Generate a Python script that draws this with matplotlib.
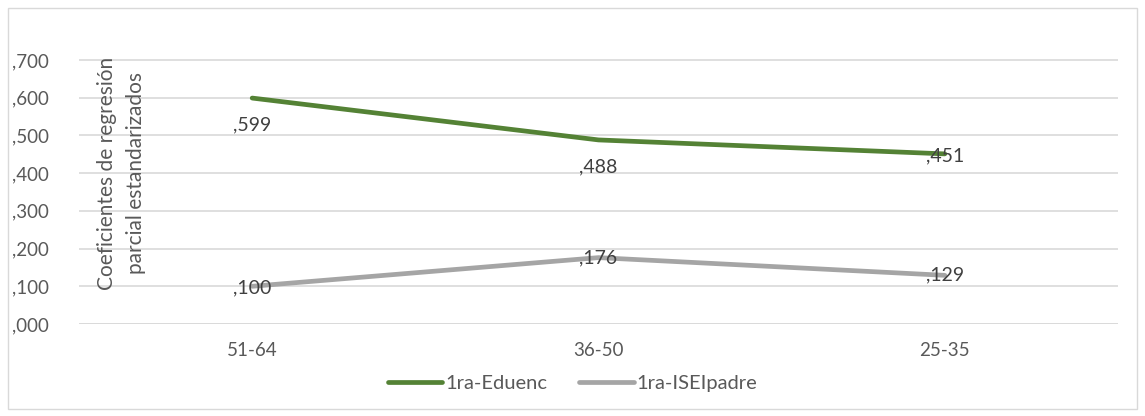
import matplotlib
matplotlib.use('Agg')
import matplotlib.pyplot as plt
from matplotlib.patches import Rectangle

# data
categorias = ['51-64', '36-50', '25-35']
eduenc = [0.599, 0.488, 0.451]
iseipadre = [0.100, 0.176, 0.129]
etiq_eduenc = [',599', ',488', ',451']
etiq_isei = [',100', ',176', ',129']
yticks = [0.0, 0.1, 0.2, 0.3, 0.4, 0.5, 0.6, 0.7]
ytick_labels = [',000', ',100', ',200', ',300', ',400', ',500', ',600', ',700']

plt.rcParams['font.family'] = ['Lato', 'DejaVu Sans']
txt = '#595959'
verde = '#548235'
gris = '#A5A5A5'

fig = plt.figure(figsize=(11.45, 4.16), dpi=100)
ax = fig.add_axes([79/1145, 1 - 324/416, (1118-79)/1145, (324-23)/416])

x = list(range(len(categorias)))
ax.plot(x, eduenc, color=verde, lw=3.4, solid_capstyle='round', label='1ra-Eduenc')
ax.plot(x, iseipadre, color=gris, lw=3.4, solid_capstyle='round', label='1ra-ISEIpadre')

# data labels (Excel put some below the point, some on it)
off_e = [-27, -27, -2]
for i, (v, t) in enumerate(zip(eduenc, etiq_eduenc)):
    ax.annotate(t, (i, v), xytext=(0, off_e[i]), textcoords='offset pixels',
                ha='center', va='center', fontsize=14, color='#404040')
off_i = [-2, 0, 0]
for i, (v, t) in enumerate(zip(iseipadre, etiq_isei)):
    ax.annotate(t, (i, v), xytext=(0, off_i[i]), textcoords='offset pixels',
                ha='center', va='center', fontsize=14, color='#404040')

ax.set_xlim(-0.5, 2.5)
ax.set_ylim(0, 0.798)
ax.set_yticks(yticks)
ax.set_yticklabels(ytick_labels)
ax.set_xticks(x)
ax.set_xticklabels(categorias)
ax.tick_params(axis='both', length=0, labelsize=13.5, colors=txt)
ax.tick_params(axis='x', pad=13)
for lab in ax.get_yticklabels():
    lab.set_horizontalalignment('left')
ax.tick_params(axis='y', pad=(79 - 12) * 0.72)
ax.grid(axis='y', color='#D9D9D9', lw=1.2)
ax.set_axisbelow(True)
for s in ax.spines.values():
    s.set_visible(False)
ax.axhline(0, color='#D9D9D9', lw=1.2, zorder=0)

ax.text(0.041, 0.50, 'Coeficientes de regresión\nparcial estandarizados', transform=ax.transAxes,
        rotation=90, ha='center', va='center', fontsize=15, color=txt, linespacing=1.55)

fig.legend(loc='center', bbox_to_anchor=(0.5, 1 - 383/416), ncol=2, frameon=False,
           fontsize=14.5, labelcolor=txt, handlelength=2.7, handletextpad=0.15, columnspacing=1.6)

fig.patches.append(Rectangle((8/1145, 1 - 409/416), 1129/1145, 401/416, transform=fig.transFigure,
                             fill=False, edgecolor='#D9D9D9', lw=1))

fig.savefig('out.png', dpi=100)
